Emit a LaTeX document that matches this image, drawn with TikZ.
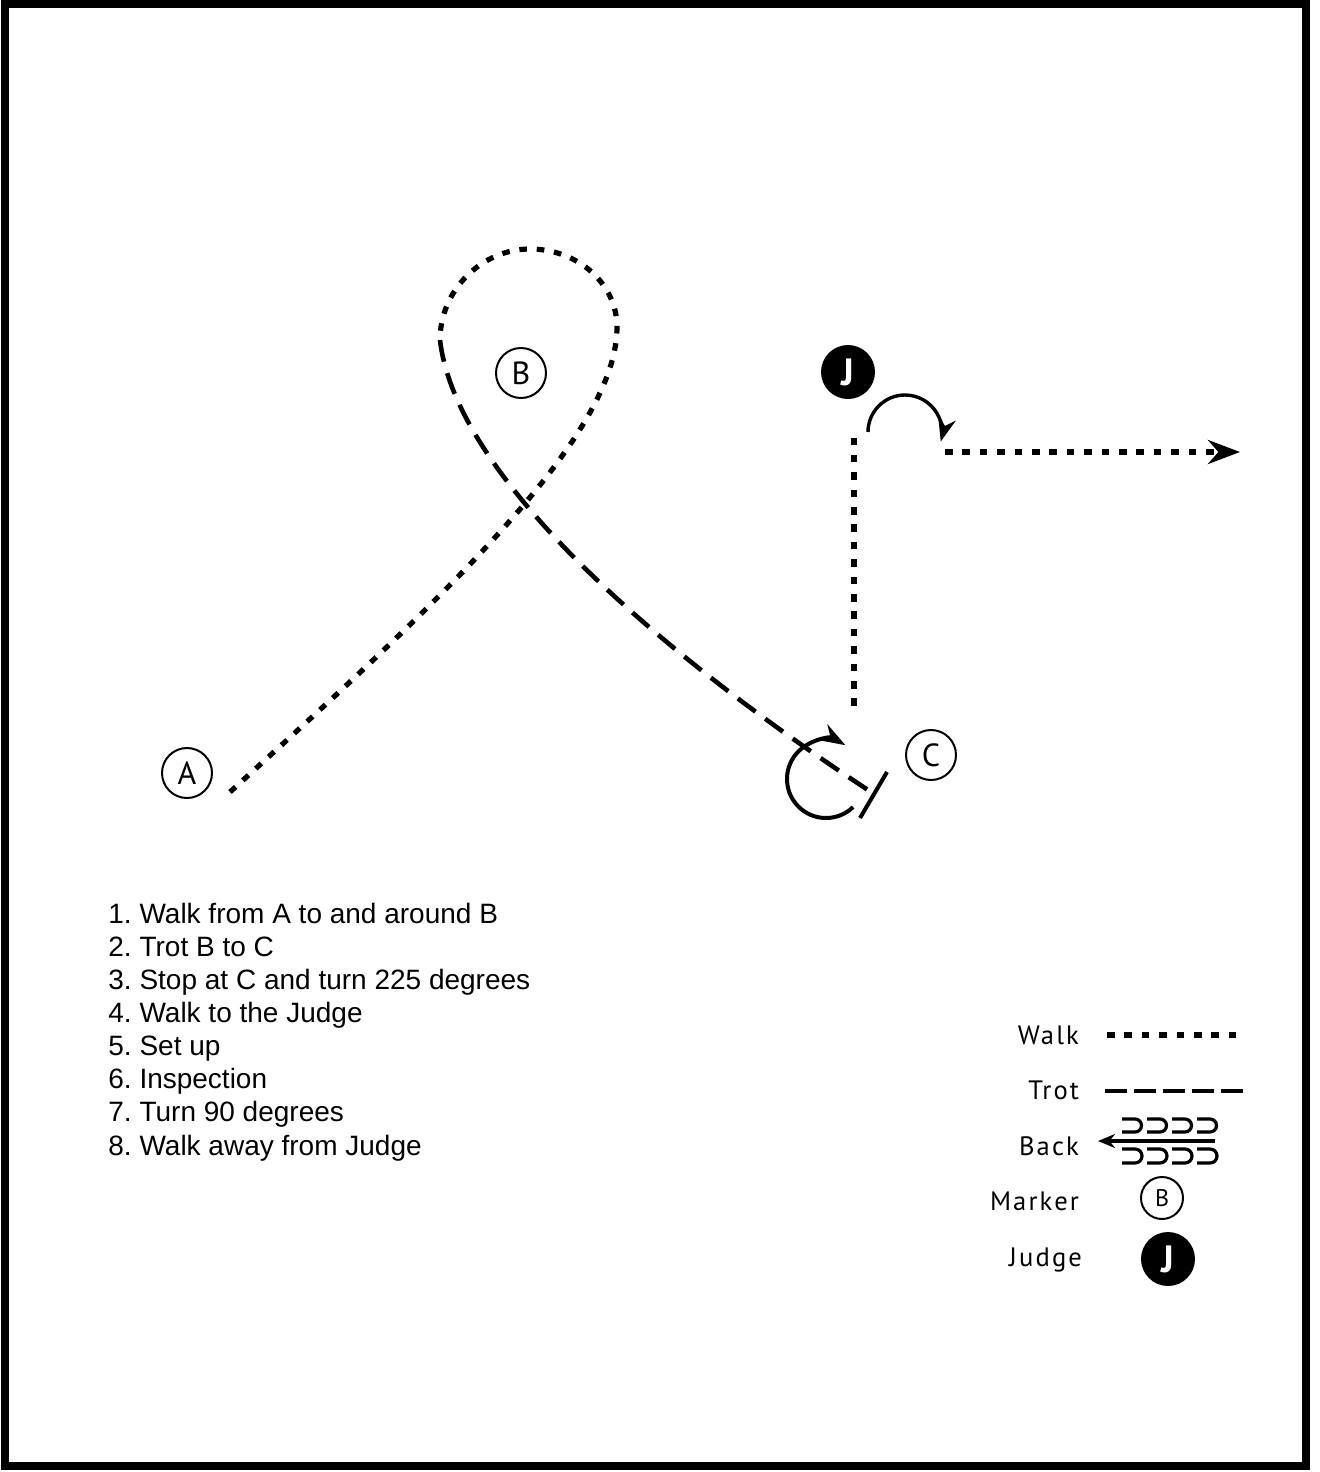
\documentclass[tikz,border=0pt]{standalone}
\usepackage{fontspec}
\setmainfont{Liberation Sans}
\newfontfamily\legendfont[LetterSpace=8]{PT Sans}
\newfontfamily\markerfont{PT Sans}
\usetikzlibrary{arrows.meta}

\tikzset{
    walk/.style={line width=2.6pt, dash pattern=on 3.8pt off 4.9pt},
    trot/.style={line width=2.3pt, dash pattern=on 11pt off 6pt},
    marker/.style={circle, draw, line width=1pt, minimum size=25pt, inner sep=0pt,
        font=\markerfont\fontsize{16}{16}\selectfont},
    judge/.style={circle, fill=black, minimum size=27pt, inner sep=0pt, text=white,
        font=\markerfont\bfseries\fontsize{19}{19}\selectfont},
    legendtext/.style={anchor=base east, font=\legendfont\fontsize{13.3}{13.3}\selectfont},
}

\begin{document}
\begin{tikzpicture}[x=0.5pt, y=0.5pt]
            \useasboundingbox (0, 0) rectangle (1319, -1472);
            \draw[line width=4pt] (5, -4) rectangle (1306, -1466);

            \path (230, -792) coordinate (W0);
            \path (617, -327) coordinate (W1);
            \path (530, -249) coordinate (W2);
            \path (440, -340) coordinate (T0);
            \path (868, -790) coordinate (T1);
            \path (854, -706) coordinate (J0);
            \path (854, -438) coordinate (J1);
            \path (945, -452) coordinate (K0);
            \path (1240, -452) coordinate (K1);

            \node[marker] (A) at (187, -773) {A};
            \node[marker] (B) at (521, -373) {B};
            \node[marker] (C) at (931, -755) {C};
            \node[judge] (J) at (848, -372) {J};

            \draw[walk] (W0) .. controls (430, -610) and (617, -440) .. (W1)
                .. controls (617, -284) and (578, -249) .. (W2)
                .. controls (482, -249) and (440, -290) .. (T0);
            \draw[trot] (T0) .. controls (455, -470) and (640, -640) .. (T1);

            \draw[line width=2pt] (860, -818) -- (887, -772);
            \draw[line width=2pt, -{Stealth[length=13pt, width=9pt]}]
                ([shift={(-46:39)}] 826, -779) arc[start angle=-46, end angle=-300, radius=39];

            \draw[walk] (J0) -- (J1);
            \draw[line width=1.7pt, -{Stealth[length=12pt, width=9pt]}]
                (868, -432) arc[start angle=180, end angle=-15, radius=37];
            \draw[walk, -{Stealth[length=16pt, width=12pt]}] (K0) -- (K1);

            \node[anchor=base west, align=left, inner sep=0pt, font=\frenchspacing\fontsize{14}{16.55}\selectfont] (steps)
                at (108, -1155) {1. Walk from A to and around B\\2. Trot B to C\\3. Stop at C and turn 225 degrees\\
                4. Walk to the Judge\\5. Set up\\6. Inspection\\7. Turn 90 degrees\\8. Walk away from Judge};

            \node[legendtext] (walklbl) at (1086, -1044) {Walk};
            \node[legendtext] (trotlbl) at (1086, -1099) {Trot};
            \node[legendtext] (backlbl) at (1086, -1155) {Back};
            \node[legendtext] (markerlbl) at (1086, -1210) {Marker};
            \node[legendtext] (judgelbl) at (1089, -1266) {Judge};

            \draw[walk] (1107, -1035) -- (1243, -1035);
            \draw[line width=2.3pt, dash pattern=on 11pt off 3.5pt] (1105, -1091) -- (1245, -1091);
            \foreach \x in {1122, 1147, 1172, 1197} {
                \draw[line width=1.6pt] (\x, -1119) -- ++(13, 0) arc[start angle=90, end angle=-90, radius=6.5] -- ++(-13, 0);
                \draw[line width=1.6pt] (\x, -1149) -- ++(13, 0) arc[start angle=90, end angle=-90, radius=7] -- ++(-13, 0);
            }
            \draw[line width=1.8pt, -{Stealth[length=8.5pt, width=7pt]}] (1215, -1141) -- (1098, -1141);
            \node[marker, minimum size=21pt, font=\markerfont\fontsize{12}{12}\selectfont] (legB) at (1162, -1198) {B};
            \node[judge] (legJ) at (1168, -1259) {J};
\end{tikzpicture}
\end{document}
